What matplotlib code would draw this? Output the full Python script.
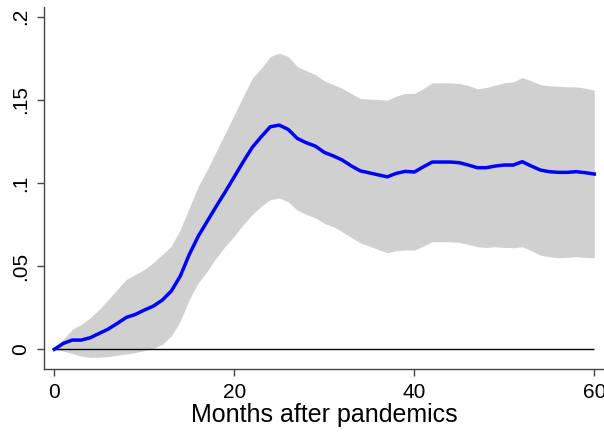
import numpy as np
import matplotlib
matplotlib.use("Agg")
import matplotlib.pyplot as plt

plt.rcParams['font.family'] = ['Liberation Sans', 'DejaVu Sans']

# Impulse response (months 0..60)
months = np.arange(0, 61)
irf = [0, 0.0036, 0.0056, 0.0056, 0.007, 0.0096, 0.0122, 0.0156, 0.0192, 0.021,
       0.0236, 0.026, 0.0296, 0.035, 0.044, 0.057, 0.068, 0.077, 0.086, 0.0947,
       0.1037, 0.1128, 0.1214, 0.1278, 0.1338, 0.1348, 0.1322, 0.1268, 0.1242, 0.1222,
       0.1184, 0.1163, 0.1138, 0.1103, 0.1073, 0.1061, 0.1049, 0.1037, 0.1058, 0.107,
       0.1066, 0.1097, 0.1126, 0.1126, 0.1126, 0.1122, 0.1108, 0.1092, 0.1092, 0.1102,
       0.1108, 0.1108, 0.1128, 0.1102, 0.1078, 0.1068, 0.1064, 0.1064, 0.1068, 0.1062,
       0.1054]
upper = [0, 0.006, 0.012, 0.015, 0.019, 0.024, 0.030, 0.036, 0.042, 0.045,
         0.048, 0.052, 0.057, 0.062, 0.072, 0.085, 0.098, 0.108, 0.119, 0.130,
         0.141, 0.152, 0.163, 0.169, 0.176, 0.178, 0.176, 0.170, 0.1674, 0.1653,
         0.1614, 0.1592, 0.1568, 0.1538, 0.1508, 0.1504, 0.1502, 0.1498, 0.1522, 0.1538,
         0.1538, 0.1568, 0.1602, 0.1602, 0.1602, 0.1598, 0.1586, 0.1566, 0.1574, 0.1588,
         0.1602, 0.1608, 0.1634, 0.1614, 0.1592, 0.1584, 0.1582, 0.1578, 0.1578, 0.157,
         0.1558]
lower = [0, -0.001, -0.0025, -0.004, -0.0048, -0.0047, -0.0043, -0.0035, -0.0028, -0.0019,
         -0.0008, 0.0006, 0.003, 0.008, 0.017, 0.030, 0.040, 0.047, 0.055, 0.062,
         0.068, 0.075, 0.081, 0.086, 0.090, 0.091, 0.0887, 0.0837, 0.0811, 0.0791,
         0.0757, 0.0737, 0.0707, 0.0673, 0.0641, 0.0621, 0.0601, 0.0581, 0.0593, 0.0597,
         0.0597, 0.0621, 0.0647, 0.0647, 0.0647, 0.0643, 0.0631, 0.0617, 0.0613, 0.0617,
         0.0613, 0.0611, 0.0617, 0.0593, 0.0567, 0.0557, 0.0551, 0.0553, 0.0557, 0.0553,
         0.0551]

yticks = [0, 0.05, 0.1, 0.15, 0.2]
ytick_labels = ['0', '.05', '.1', '.15', '.2']
xticks = [0, 20, 40, 60]

fig = plt.figure(figsize=(6.04, 4.46), dpi=100)
ax = fig.add_axes([0.0728, 0.1726, 0.9272, 0.8114])

# confidence band, zero line, then the response
ax.fill_between(months, lower, upper, color='#d0d0d0', linewidth=0)
ax.hlines(0, months[0], months[-1], color='black', linewidth=1.0)
ax.plot(months, irf, color='#0000ff', linewidth=2.5, solid_joinstyle='round')

ax.set_xlim(-1.14, 61.08)
ax.set_ylim(-0.0118, 0.2057)

ax.set_yticks(yticks)
ax.set_yticklabels(ytick_labels, rotation=90, va='center')
ax.set_xticks(xticks)
ax.set_xlabel('Months after pandemics', fontsize=18, labelpad=1)

for s in ['top', 'right']:
    ax.spines[s].set_visible(False)
for s in ['left', 'bottom']:
    ax.spines[s].set_color('#444444')
    ax.spines[s].set_linewidth(1.0)
ax.tick_params(axis='both', labelsize=15, length=5, width=1.0, color='#444444')
ax.tick_params(axis='x', pad=5)
ax.tick_params(axis='y', pad=5)

fig.savefig('out.png', dpi=100)
